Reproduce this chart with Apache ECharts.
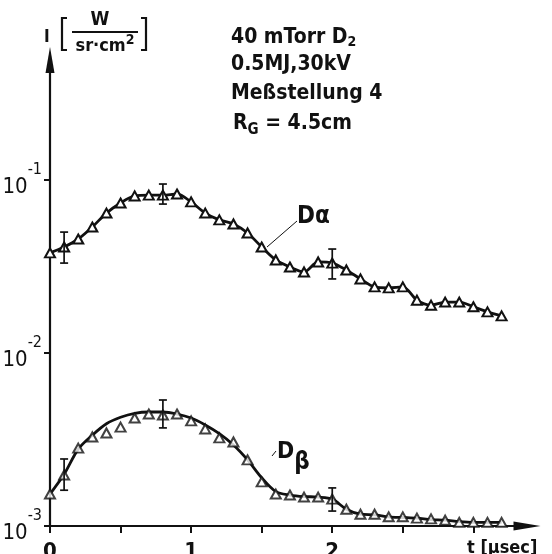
<!DOCTYPE html>
<html>
<head>
<meta charset="utf-8">
<script src="https://cdn.jsdelivr.net/npm/echarts@6/dist/echarts.min.js"></script>
<style>
  html, body { margin: 0; padding: 0; background: #fff; }
  #chart { width: 552px; height: 554px; }
</style>
</head>
<body>
<div id="chart"></div>
<script>
// time axis (µs) for the sampled points
const t = [0.0, 0.1, 0.2, 0.3, 0.4, 0.5, 0.6, 0.7, 0.8, 0.9,
           1.0, 1.1, 1.2, 1.3, 1.4, 1.5, 1.6, 1.7, 1.8, 1.9,
           2.0, 2.1, 2.2, 2.3, 2.4, 2.5, 2.6, 2.7, 2.8, 2.9,
           3.0, 3.1, 3.2];

// D-alpha intensity, W/(sr cm^2)
const dAlpha = [0.0379, 0.0410, 0.0456, 0.0535, 0.0644, 0.0736, 0.0809, 0.0818, 0.0818, 0.0830,
                0.0747, 0.0644, 0.0588, 0.0557, 0.0494, 0.0410, 0.0345, 0.0314, 0.0294, 0.0336,
                0.0331, 0.0302, 0.0268, 0.0241, 0.0238, 0.0241, 0.0202, 0.0189, 0.0197, 0.0197,
                0.0185, 0.0173, 0.0164];

// D-beta measured points
const dBeta = [1.53e-3, 1.97e-3, 2.82e-3, 3.27e-3, 3.45e-3, 3.73e-3, 4.21e-3, 4.44e-3, 4.38e-3, 4.44e-3,
               4.05e-3, 3.64e-3, 3.23e-3, 3.06e-3, 2.41e-3, 1.80e-3, 1.53e-3, 1.51e-3, 1.47e-3, 1.47e-3,
               1.43e-3, 1.25e-3, 1.17e-3, 1.17e-3, 1.13e-3, 1.13e-3, 1.11e-3, 1.10e-3, 1.08e-3, 1.05e-3,
               1.05e-3, 1.05e-3, 1.05e-3];

// D-beta smoothed curve
const dBetaFit = [1.53e-3, 1.99e-3, 2.78e-3, 3.35e-3, 3.90e-3, 4.25e-3, 4.48e-3, 4.56e-3, 4.56e-3, 4.44e-3,
                  4.21e-3, 3.84e-3, 3.42e-3, 2.94e-3, 2.41e-3, 1.90e-3, 1.58e-3, 1.51e-3, 1.48e-3, 1.47e-3,
                  1.43e-3, 1.25e-3, 1.17e-3, 1.16e-3, 1.13e-3, 1.12e-3, 1.11e-3, 1.09e-3, 1.08e-3, 1.06e-3,
                  1.05e-3, 1.05e-3, 1.05e-3];

// error bars: time, low, high
const errT = [0.1, 0.8, 2.0];
const dAlphaErrLow  = [0.0331, 0.0726, 0.0268];
const dAlphaErrHigh = [0.0500, 0.0948, 0.0399];
const dBetaErrLow   = [1.61e-3, 3.69e-3, 1.22e-3];
const dBetaErrHigh  = [2.44e-3, 5.35e-3, 1.66e-3];

// axis ticks and labels
const xTickValues = [0, 0.5, 1, 1.5, 2, 2.5, 3];
const xLabelValues = [0, 1, 2];
const yTickValues = [0.001, 0.01, 0.1];
const yTickExponents = ['-3', '-2', '-1'];

const FONT = "'DejaVu Sans Condensed','Liberation Sans',sans-serif";
const INK = '#111';
const W = 'bold ';

function pairs(xs, ys) { return xs.map((x, i) => [x, ys[i]]); }
function triples(xs, lo, hi) { return xs.map((x, i) => [x, lo[i], hi[i]]); }

function renderErrorBar(params, api) {
  const x = api.value(0);
  const top = api.coord([x, api.value(2)]);
  const bot = api.coord([x, api.value(1)]);
  const cap = 4;
  const st = { stroke: INK, lineWidth: 1.7 };
  return {
    type: 'group',
    children: [
      { type: 'line', shape: { x1: top[0], y1: top[1], x2: bot[0], y2: bot[1] }, style: st },
      { type: 'line', shape: { x1: top[0] - cap, y1: top[1], x2: top[0] + cap, y2: top[1] }, style: st },
      { type: 'line', shape: { x1: bot[0] - cap, y1: bot[1], x2: bot[0] + cap, y2: bot[1] }, style: st }
    ]
  };
}

const markerStyle = { color: '#fff', borderColor: INK, borderWidth: 2 };

const chart = echarts.init(document.getElementById('chart'), null, { renderer: 'canvas' });
chart.setOption({
  backgroundColor: '#fff',
  animation: false,
  grid: { left: 50, right: 25, top: 60, bottom: 28, containLabel: false, outerBoundsMode: 'none' },
  xAxis: {
    type: 'value',
    min: 0,
    max: 3.38,
    splitLine: { show: false },
    axisLine: { lineStyle: { color: INK, width: 2.2 }, symbol: ['none', 'triangle'], symbolSize: [9, 27] },
    axisTick: { customValues: xTickValues, length: 7, inside: false, lineStyle: { color: INK, width: 2 } },
    axisLabel: {
      customValues: xLabelValues,
      margin: 15,
      color: INK,
      fontFamily: FONT,
      fontWeight: 'bold',
      fontSize: 22
    }
  },
  yAxis: {
    type: 'log',
    logBase: 10,
    min: 0.001,
    max: 0.494,
    splitLine: { show: false },
    axisLine: { lineStyle: { color: INK, width: 2.2 }, symbol: ['none', 'triangle'], symbolSize: [9, 26] },
    axisTick: { customValues: yTickValues, length: 6, lineStyle: { color: INK, width: 2 } },
    axisLabel: {
      customValues: yTickValues,
      margin: 8,
      formatter: function (v) {
        const i = yTickValues.findIndex(u => Math.abs(u - v) / u < 1e-6);
        return '{b|10}{s|' + (i >= 0 ? yTickExponents[i] : '') + '}';
      },
      rich: {
        b: { fontFamily: FONT, fontSize: 22, color: INK, padding: [14, 0, 0, 0] },
        s: { fontFamily: FONT, fontSize: 16, color: INK, padding: [0, 0, 20, 0] }
      }
    }
  },
  series: [
    {
      name: 'Dα',
      type: 'line',
      data: pairs(t, dAlpha),
      smooth: 0.3,
      symbol: 'triangle',
      symbolSize: [10, 9],
      showAllSymbol: true,
      lineStyle: { color: INK, width: 2.8 },
      itemStyle: markerStyle,
      z: 3
    },
    {
      name: 'Dβ fit',
      type: 'line',
      data: pairs(t, dBetaFit),
      smooth: 0.3,
      symbol: 'none',
      lineStyle: { color: INK, width: 2.8 },
      z: 2
    },
    {
      name: 'Dβ',
      type: 'scatter',
      data: pairs(t, dBeta),
      symbol: 'triangle',
      symbolSize: [10, 9],
      itemStyle: markerStyle,
      z: 3
    },
    {
      name: 'Dα error',
      type: 'custom',
      renderItem: renderErrorBar,
      data: triples(errT, dAlphaErrLow, dAlphaErrHigh),
      encode: { x: 0, y: [1, 2] },
      z: 4
    },
    {
      name: 'Dβ error',
      type: 'custom',
      renderItem: renderErrorBar,
      data: triples(errT, dBetaErrLow, dBetaErrHigh),
      encode: { x: 0, y: [1, 2] },
      z: 4
    }
  ],
  graphic: [
    // intensity unit label
    { type: 'text', left: 44, top: 29, style: { text: 'I', font: W + '17px ' + FONT, fill: INK } },
    { type: 'polyline', shape: { points: [[67, 18], [62, 18], [62, 50], [67, 50]] }, style: { stroke: INK, lineWidth: 2.2, fill: null } },
    { type: 'polyline', shape: { points: [[141, 18], [146, 18], [146, 50], [141, 50]] }, style: { stroke: INK, lineWidth: 2.2, fill: null } },
    { type: 'text', x: 100, y: 11, style: { text: 'W', font: W + '19px ' + FONT, fill: INK, align: 'center' } },
    { type: 'line', shape: { x1: 72, y1: 32, x2: 138, y2: 32 }, style: { stroke: INK, lineWidth: 2.2 } },
    { type: 'text', x: 105, y: 33, style: {
        text: '{a|sr·cm}{p|2}', align: 'center',
        rich: { a: { font: W + '18px ' + FONT, fill: INK, padding: [4, 0, 0, 0] }, p: { font: W + '14px ' + FONT, fill: INK, padding: [0, 0, 8, 0] } }
      } },
    // discharge conditions
    { type: 'text', left: 231, top: 27, style: {
        text: '{a|40 mTorr D}{s|2}',
        rich: { a: { font: W + '21px ' + FONT, fill: INK }, s: { font: W + '14px ' + FONT, fill: INK, padding: [10, 0, 0, 0] } }
      } },
    { type: 'text', left: 231, top: 54, style: { text: '0.5MJ,30kV', font: W + '21px ' + FONT, fill: INK } },
    { type: 'text', left: 231, top: 83, style: { text: 'Meßstellung 4', font: W + '21px ' + FONT, fill: INK } },
    { type: 'text', left: 233, top: 113, style: {
        text: '{a|R}{s|G}{a| = 4.5cm}',
        rich: { a: { font: W + '21px ' + FONT, fill: INK }, s: { font: W + '15px ' + FONT, fill: INK, padding: [14, 0, 0, 0] } }
      } },
    // curve names with leader lines
    { type: 'line', shape: { x1: 267, y1: 247, x2: 297, y2: 221 }, style: { stroke: INK, lineWidth: 1 } },
    { type: 'text', left: 297, top: 205, style: { text: 'Dα', font: W + '24px ' + FONT, fill: INK } },
    { type: 'line', shape: { x1: 272, y1: 456, x2: 276, y2: 451 }, style: { stroke: INK, lineWidth: 1 } },
    { type: 'text', left: 277, top: 441, style: {
        text: '{a|D}{s|β}',
        rich: { a: { font: W + '23px ' + FONT, fill: INK }, s: { font: W + '24px ' + FONT, fill: INK, padding: [20, 0, 0, 0] } }
      } },
    // time axis name
    { type: 'text', left: 467, top: 539, style: { text: 't [µsec]', font: W + '18px ' + FONT, fill: INK } }
  ]
});
</script>
</body>
</html>
